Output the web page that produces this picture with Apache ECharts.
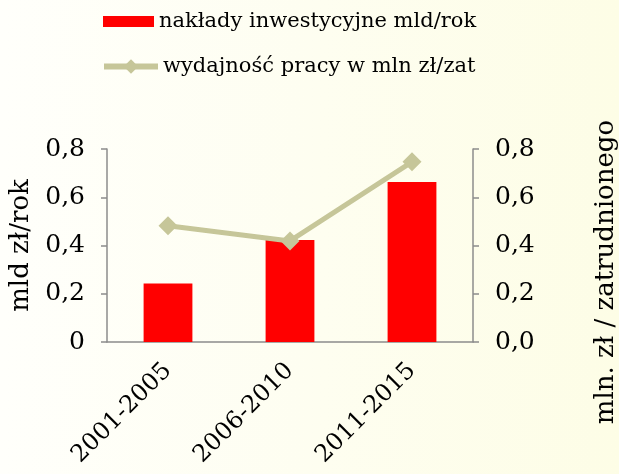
<!DOCTYPE html>
<html><head><meta charset="utf-8">
<script src="https://cdn.jsdelivr.net/npm/echarts@6/dist/echarts.min.js"></script>
<style>html,body{margin:0;padding:0;}#c{width:619px;height:474px;}</style>
</head><body><div id="c"></div>
<script>
const categories = ['2001-2005', '2006-2010', '2011-2015'];
const investment = [0.243, 0.423, 0.663];
const productivity = [0.482, 0.419, 0.747];
const seriesNames = ['nakłady inwestycyjne mld/rok', 'wydajność pracy w mln zł/zat'];
const leftAxisName = 'mld zł/rok';
const rightAxisName = 'mln. zł / zatrudnionego';

const FONT = 'DejaVu Serif';
const AXIS = '#8c8c8c';
const LINE = '#c6c699';
const chart = echarts.init(document.getElementById('c'), null, {renderer: 'canvas'});
chart.setOption({
  animation: false,
  backgroundColor: new echarts.graphic.LinearGradient(0, 0, 1, 0, [
    {offset: 0, color: '#fffffb'}, {offset: 1, color: '#fdfde6'}
  ]),
  textStyle: {fontFamily: FONT, color: '#000'},
  legend: [
    {data: [{name: seriesNames[0], icon: 'rect'}], left: 98, top: 6, itemWidth: 51, itemHeight: 11,
     textStyle: {fontFamily: FONT, fontSize: 21, color: '#000'}},
    {data: [seriesNames[1]], left: 96, top: 51, itemWidth: 54, itemHeight: 18,
     lineStyle: {width: 6}, itemStyle: {color: LINE},
     textStyle: {fontFamily: FONT, fontSize: 21, color: '#000'}}
  ],
  grid: {left: 107, right: 146, top: 149, bottom: 132, outerBoundsMode: 'none', containLabel: false},
  xAxis: {
    type: 'category', data: categories,
    axisLine: {lineStyle: {color: AXIS, width: 1.5}},
    axisTick: {length: 6, lineStyle: {color: AXIS, width: 1.5}},
    axisLabel: {rotate: 45, fontFamily: FONT, fontSize: 24, color: '#000', margin: 25}
  },
  yAxis: [
    {type: 'value', min: 0, max: 0.8, interval: 0.2, position: 'left',
     name: leftAxisName, nameLocation: 'middle', nameGap: 70,
     nameTextStyle: {fontFamily: FONT, fontSize: 26, color: '#000'},
     axisLine: {show: true, lineStyle: {color: AXIS, width: 1.5}},
     axisTick: {show: true, length: 6, lineStyle: {color: AXIS, width: 1.5}},
     splitLine: {show: false},
     axisLabel: {fontFamily: FONT, fontSize: 25, color: '#000', margin: 22,
       formatter: v => v === 0 ? '0' : v.toFixed(1).replace('.', ',')}},
    {type: 'value', min: 0, max: 0.8, interval: 0.2, position: 'right',
     name: rightAxisName, nameLocation: 'middle', nameGap: 120, nameRotate: 90,
     nameTextStyle: {fontFamily: FONT, fontSize: 26, color: '#000', padding: [0, 53, 0, 0]},
     axisLine: {show: true, lineStyle: {color: AXIS, width: 1.5}},
     axisTick: {show: true, length: 6, lineStyle: {color: AXIS, width: 1.5}},
     splitLine: {show: false},
     axisLabel: {fontFamily: FONT, fontSize: 25, color: '#000', margin: 22,
       formatter: v => v.toFixed(1).replace('.', ',')}}
  ],
  series: [
    {name: seriesNames[0], type: 'bar', data: investment, yAxisIndex: 0,
     barWidth: '40%', itemStyle: {color: '#ff0000'}},
    {name: seriesNames[1], type: 'line', data: productivity, yAxisIndex: 1,
     symbol: 'diamond', symbolSize: 19,
     lineStyle: {color: LINE, width: 5}, itemStyle: {color: LINE}}
  ]
});
</script></body></html>
